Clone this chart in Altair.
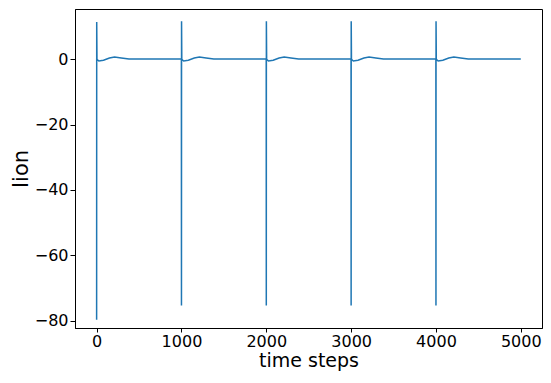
import altair as alt
import pandas as pd

# Cycle starts (time steps) and spike extremes
cycle_starts = [0, 1000, 2000, 3000, 4000]
spike_min = [-79.6, -75.3, -75.3, -75.3, -75.3]
spike_max = [11.3, 11.5, 11.5, 11.5, 11.5]

# Post-spike shape (offset after spike, value)
after_offsets = [3, 25, 80, 150, 210, 290, 380]
after_values = [-0.1, -0.6, -0.35, 0.3, 0.6, 0.3, 0.0]

end_time = 5000
end_value = 0.0

x_ticks = [0, 1000, 2000, 3000, 4000, 5000]
y_ticks = [-80, -60, -40, -20, 0]

rows = []
for i, c in enumerate(cycle_starts):
    if c > 0:
        rows.append((c - 1, 0.0))
    rows.append((c, spike_min[i]))
    rows.append((c + 1, spike_max[i]))
    for o, v in zip(after_offsets, after_values):
        rows.append((c + 1 + o, v))
rows.append((end_time, end_value))
df = pd.DataFrame(rows, columns=["t", "Iion"])

font = "DejaVu Sans"

chart = (
    alt.Chart(df)
    .mark_line(color="#1f77b4", strokeWidth=1.5, clip=True)
    .encode(
        x=alt.X(
            "t:Q",
            scale=alt.Scale(domain=[-255, 5250], nice=False, zero=False),
            axis=alt.Axis(
                values=x_ticks,
                title="time steps",
                format="d",
                grid=False,
                labelFlush=False,
                labelOverlap=False,
                tickSize=4,
                labelPadding=1,
                titlePadding=2,
                titleFontSize=19,
            ),
        ),
        y=alt.Y(
            "Iion:Q",
            scale=alt.Scale(domain=[-82.14, 15.27], nice=False, zero=False),
            axis=alt.Axis(
                values=y_ticks,
                title="Iion",
                format="d",
                grid=False,
                labelFlush=False,
                labelOverlap=False,
                tickSize=5,
                labelPadding=2,
                titlePadding=3,
                titleFontSize=21,
            ),
        ),
        order="t:Q",
    )
    .properties(
        width=467,
        height=319,
        autosize=alt.AutoSizeParams(type="none"),
        padding={"left": 67, "top": 1, "right": 1, "bottom": 44},
    )
    .configure_view(stroke="black", strokeWidth=1)
    .configure_axis(
        domainColor="black",
        tickColor="black",
        labelFont=font,
        titleFont=font,
        labelFontSize=16,
        labelColor="black",
        titleColor="black",
        titleFontWeight="normal",
    )
)

chart.save("out.html", embed_options={"renderer": "svg", "actions": False})
